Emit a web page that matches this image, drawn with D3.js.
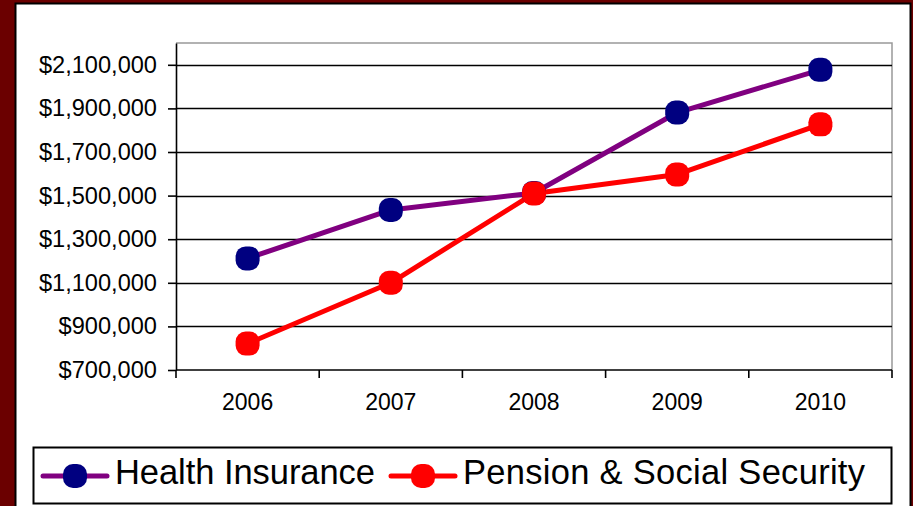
<!DOCTYPE html>
<html>
<head>
<meta charset="utf-8">
<script src="https://cdn.jsdelivr.net/npm/d3@7"></script>
<style>
  html, body { margin: 0; padding: 0; background: #6b0000; }
  svg { display: block; }
  text { font-family: "Liberation Sans", Arial, sans-serif; fill: #000; }
</style>
</head>
<body>
<svg id="chart" width="913" height="506"></svg>
<script>
const years = ["2006", "2007", "2008", "2009", "2010"];
const healthInsurance = [1212000, 1434000, 1512000, 1881000, 2077000];
const pensionSocialSecurity = [821000, 1100000, 1510000, 1597000, 1827000];
const yTickValues = [700000, 900000, 1100000, 1300000, 1500000, 1700000, 1900000, 2100000];
const seriesNames = ["Health Insurance", "Pension & Social Security"];

const series = [
  { name: seriesNames[0], values: healthInsurance, line: "#800080", marker: "#000080" },
  { name: seriesNames[1], values: pensionSocialSecurity, line: "#ff0000", marker: "#ff0000" }
];

const svg = d3.select("#chart");

// white panel
svg.append("rect").attr("x", 0).attr("y", 0).attr("width", 913).attr("height", 506).attr("fill", "#6b0000");
svg.append("rect").attr("x", 15.5).attr("y", 3.5).attr("width", 895).attr("height", 510)
  .attr("fill", "#fff").attr("stroke", "#000").attr("stroke-width", 2);

const plot = { left: 176, top: 43, right: 892, bottom: 370 };

const x = d3.scaleBand().domain(years).range([plot.left, plot.right]).paddingInner(0).paddingOuter(0);
const y = d3.scaleLinear().domain([700000, 2200000]).range([plot.bottom, plot.top]);

// plot frame (top/right gray)
svg.append("path")
  .attr("d", `M${plot.left},${plot.top}H${plot.right}V${plot.bottom}`)
  .attr("fill", "none").attr("stroke", "#999").attr("stroke-width", 1.5);

// gridlines
svg.append("g")
  .selectAll("line")
  .data(yTickValues.filter(v => v > 700000))
  .join("line")
  .attr("x1", plot.left).attr("x2", plot.right)
  .attr("y1", d => Math.round(y(d)) + 0.5).attr("y2", d => Math.round(y(d)) + 0.5)
  .attr("stroke", "#000").attr("stroke-width", 1.6);

// y axis
const yAxis = svg.append("g")
  .attr("transform", `translate(${plot.left},0)`)
  .call(d3.axisLeft(y).tickValues(yTickValues)
    .tickFormat(d => "$" + d3.format(",")(d))
    .tickSize(8).tickPadding(11).tickSizeOuter(0));
yAxis.select(".domain").attr("stroke", "#000").attr("stroke-width", 1.6);
yAxis.selectAll(".tick line").attr("stroke", "#000").attr("stroke-width", 1.6);
yAxis.selectAll("text").attr("font-size", 23.6).attr("font-family", "Liberation Sans, Arial, sans-serif");

// x axis labels
const xAxis = svg.append("g")
  .attr("transform", `translate(0,${plot.bottom})`)
  .call(d3.axisBottom(x).tickSize(0).tickPadding(24).tickSizeOuter(0));
xAxis.select(".domain").remove();
xAxis.selectAll("text").attr("font-size", 23).attr("font-family", "Liberation Sans, Arial, sans-serif");

// x axis line + boundary ticks
const boundaries = years.map(d => x(d)).concat([x(years[years.length - 1]) + x.bandwidth()]);
svg.append("line")
  .attr("x1", plot.left).attr("x2", plot.right)
  .attr("y1", plot.bottom).attr("y2", plot.bottom)
  .attr("stroke", "#000").attr("stroke-width", 1.6);
svg.append("g").selectAll("line").data(boundaries).join("line")
  .attr("x1", d => d).attr("x2", d => d)
  .attr("y1", plot.bottom).attr("y2", plot.bottom + 8)
  .attr("stroke", "#000").attr("stroke-width", 1.6);

// lines
const cx = d => x(d) + x.bandwidth() / 2;
series.forEach(s => {
  const line = d3.line().x((v, i) => cx(years[i])).y(v => y(v));
  svg.append("path").datum(s.values)
    .attr("d", line).attr("fill", "none")
    .attr("stroke", s.line).attr("stroke-width", 5).attr("stroke-linejoin", "round");
});
series.forEach(s => {
  svg.append("g").selectAll("rect").data(s.values).join("rect")
    .attr("x", (v, i) => cx(years[i]) - 12).attr("y", v => y(v) - 12)
    .attr("width", 24).attr("height", 24).attr("rx", 10).attr("ry", 10)
    .attr("fill", s.marker);
});

// legend
const lg = svg.append("g");
lg.append("rect").attr("x", 33.5).attr("y", 447.5).attr("width", 858).attr("height", 56)
  .attr("fill", "#fff").attr("stroke", "#000").attr("stroke-width", 2);
const legendItems = [
  { s: series[0], lx: 43, tx: 115, w: 260 },
  { s: series[1], lx: 391, tx: 463, w: 402 }
];
legendItems.forEach(it => {
  lg.append("line").attr("x1", it.lx).attr("x2", it.lx + 64)
    .attr("y1", 476).attr("y2", 476)
    .attr("stroke", it.s.line).attr("stroke-width", 5).attr("stroke-linecap", "round");
  lg.append("rect").attr("x", it.lx + 32 - 12).attr("y", 476 - 12)
    .attr("width", 24).attr("height", 24).attr("rx", 10).attr("ry", 10)
    .attr("fill", it.s.marker);
  lg.append("text").attr("x", it.tx).attr("y", 484)
    .attr("font-size", 34.5)
    .attr("textLength", it.w).attr("lengthAdjust", "spacing")
    .text(it.s.name);
});
</script>
</body>
</html>
